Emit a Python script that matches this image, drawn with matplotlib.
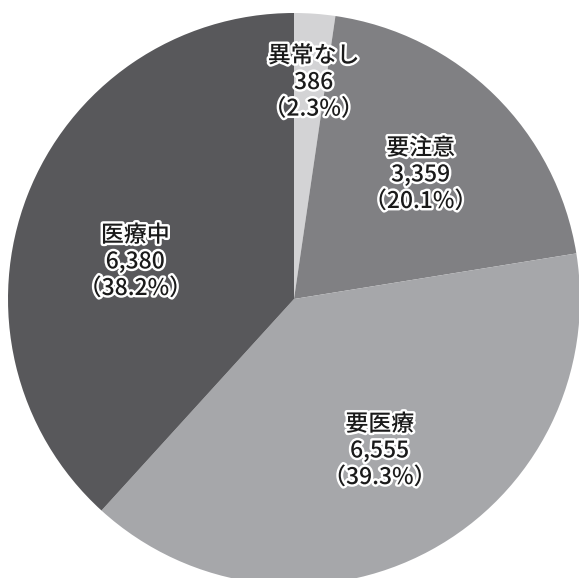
import matplotlib.pyplot as plt
import matplotlib.patheffects as pe
import numpy as np

plt.rcParams['font.family'] = ['Noto Sans CJK JP', 'DejaVu Sans']

labels = ["異常なし", "要注意", "要医療", "医療中"]
counts = [386, 3359, 6555, 6380]
colors = ["#d3d3d5", "#808083", "#a6a7aa", "#58585b"]
# radial position of each label (fraction of radius) and small angle nudge (deg)
label_r = [0.76, 0.62, 0.61, 0.57]
label_nudge = [-1, -1, 1, 8]

fig = plt.figure(figsize=(5.79, 5.78), dpi=100)
ax = fig.add_axes([0, 0, 1, 1])

cx, cy, R = 294, 279, 286
wedges, _ = ax.pie(counts, colors=colors, startangle=90, counterclock=False,
                   center=(cx, cy), radius=R, frame=True,
                   wedgeprops=dict(linewidth=0))
ax.set_xlim(0, 579)
ax.set_ylim(0, 578)
ax.set_aspect("equal")
ax.axis("off")

total = sum(counts)
for w, lab, n, rf, dn in zip(wedges, labels, counts, label_r, label_nudge):
    ang = np.deg2rad((w.theta1 + w.theta2) / 2 + dn)
    x = cx + rf * R * np.cos(ang)
    y = cy + rf * R * np.sin(ang)
    txt = f"{lab}\n{n:,}\n（{n / total * 100:.1f}%）"
    ax.text(x, y, txt, ha="center", va="center", fontsize=16.5,
            fontweight="medium", linespacing=1.2, color="#1a1a1a",
            path_effects=[pe.withStroke(linewidth=3.5, foreground="white")])

fig.savefig("out.png", dpi=100)
